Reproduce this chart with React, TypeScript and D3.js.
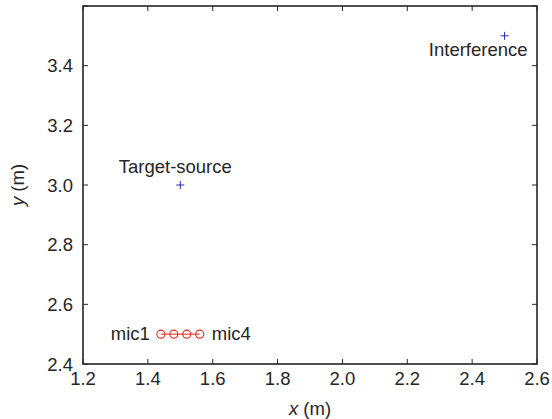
import React from "react";
import * as d3 from "d3";

const xTicks = [1.2, 1.4, 1.6, 1.8, 2.0, 2.2, 2.4, 2.6];
const yTicks = [2.4, 2.6, 2.8, 3.0, 3.2, 3.4, 3.6];
const yTickLabels = ["2.4", "2.6", "2.8", "3.0", "3.2", "3.4", ""];
const micX = [1.44, 1.48, 1.52, 1.56];
const micY = [2.5, 2.5, 2.5, 2.5];
const sources = [
  { name: "Target-source", x: 1.5, y: 3.0 },
  { name: "Interference", x: 2.5, y: 3.5 },
];

const W = 552, H = 419;
const L = 83, R = 537, T = 6, B = 364;

export default function App() {
  const x = d3.scaleLinear().domain([1.2, 2.6]).range([L, R]);
  const y = d3.scaleLinear().domain([2.4, 3.6]).range([B, T]);
  const ax = "#262626";
  const font = "Liberation Sans, Arial, sans-serif";
  const fs = 18.5;
  const line = d3.line<number>().x((d, i) => x(micX[i])).y((d, i) => y(micY[i]));
  return (
    <svg width={W} height={H} style={{ position: "absolute", left: 0, top: 0 }} fontFamily={font}>
      <rect x={0} y={0} width={W} height={H} fill="#fff" />
      {xTicks.map((t) => (
        <g key={"x" + t}>
          <line x1={x(t)} x2={x(t)} y1={B} y2={B - 5} stroke={ax} />
          <line x1={x(t)} x2={x(t)} y1={T} y2={T + 5} stroke={ax} />
          <text x={x(t)} y={B + 21} textAnchor="middle" fontSize={fs} fill={ax}>
            {t.toFixed(1)}
          </text>
        </g>
      ))}
      {yTicks.map((t, i) => (
        <g key={"y" + t}>
          <line x1={L} x2={L + 5} y1={y(t)} y2={y(t)} stroke={ax} />
          <line x1={R} x2={R - 5} y1={y(t)} y2={y(t)} stroke={ax} />
          <text x={L - 10} y={y(t) + 6.5} textAnchor="end" fontSize={fs} fill={ax}>
            {yTickLabels[i]}
          </text>
        </g>
      ))}
      <rect x={L} y={T} width={R - L} height={B - T} fill="none" stroke={ax} strokeWidth={1.6} />
      <path d={line(micX) || ""} fill="none" stroke="#e8261c" strokeWidth={1} />
      {micX.map((m, i) => (
        <circle key={"m" + i} cx={x(m)} cy={y(micY[i])} r={4} fill="none" stroke="#e8261c" strokeWidth={1.1} />
      ))}
      <text x={x(micX[0]) - 11} y={y(2.5) + 6} textAnchor="end" fontSize={fs} fill={ax}>mic1</text>
      <text x={x(micX[3]) + 12} y={y(2.5) + 6} textAnchor="start" fontSize={fs} fill={ax}>mic4</text>
      {sources.map((s) => (
        <path
          key={s.name}
          d={`M${x(s.x) - 4},${y(s.y)}H${x(s.x) + 4}M${x(s.x)},${y(s.y) - 4}V${y(s.y) + 4}`}
          stroke="#2b2bb0"
          strokeWidth={1}
        />
      ))}
      <text x={x(1.5) - 5} y={y(3.0) - 12} textAnchor="middle" fontSize={fs} fill={ax}>Target-source</text>
      <text x={x(2.5) + 23} y={y(3.5) + 20.5} textAnchor="end" fontSize={fs} fill={ax}>Interference</text>
      <text x={(L + R) / 2} y={H - 4} textAnchor="middle" fontSize={fs} fill={ax}>
        <tspan fontStyle="italic">x</tspan> (m)
      </text>
      <text transform={`translate(24,${(T + B) / 2}) rotate(-90)`} textAnchor="middle" fontSize={fs} fill={ax}>
        <tspan fontStyle="italic">y</tspan> (m)
      </text>
    </svg>
  );
}
